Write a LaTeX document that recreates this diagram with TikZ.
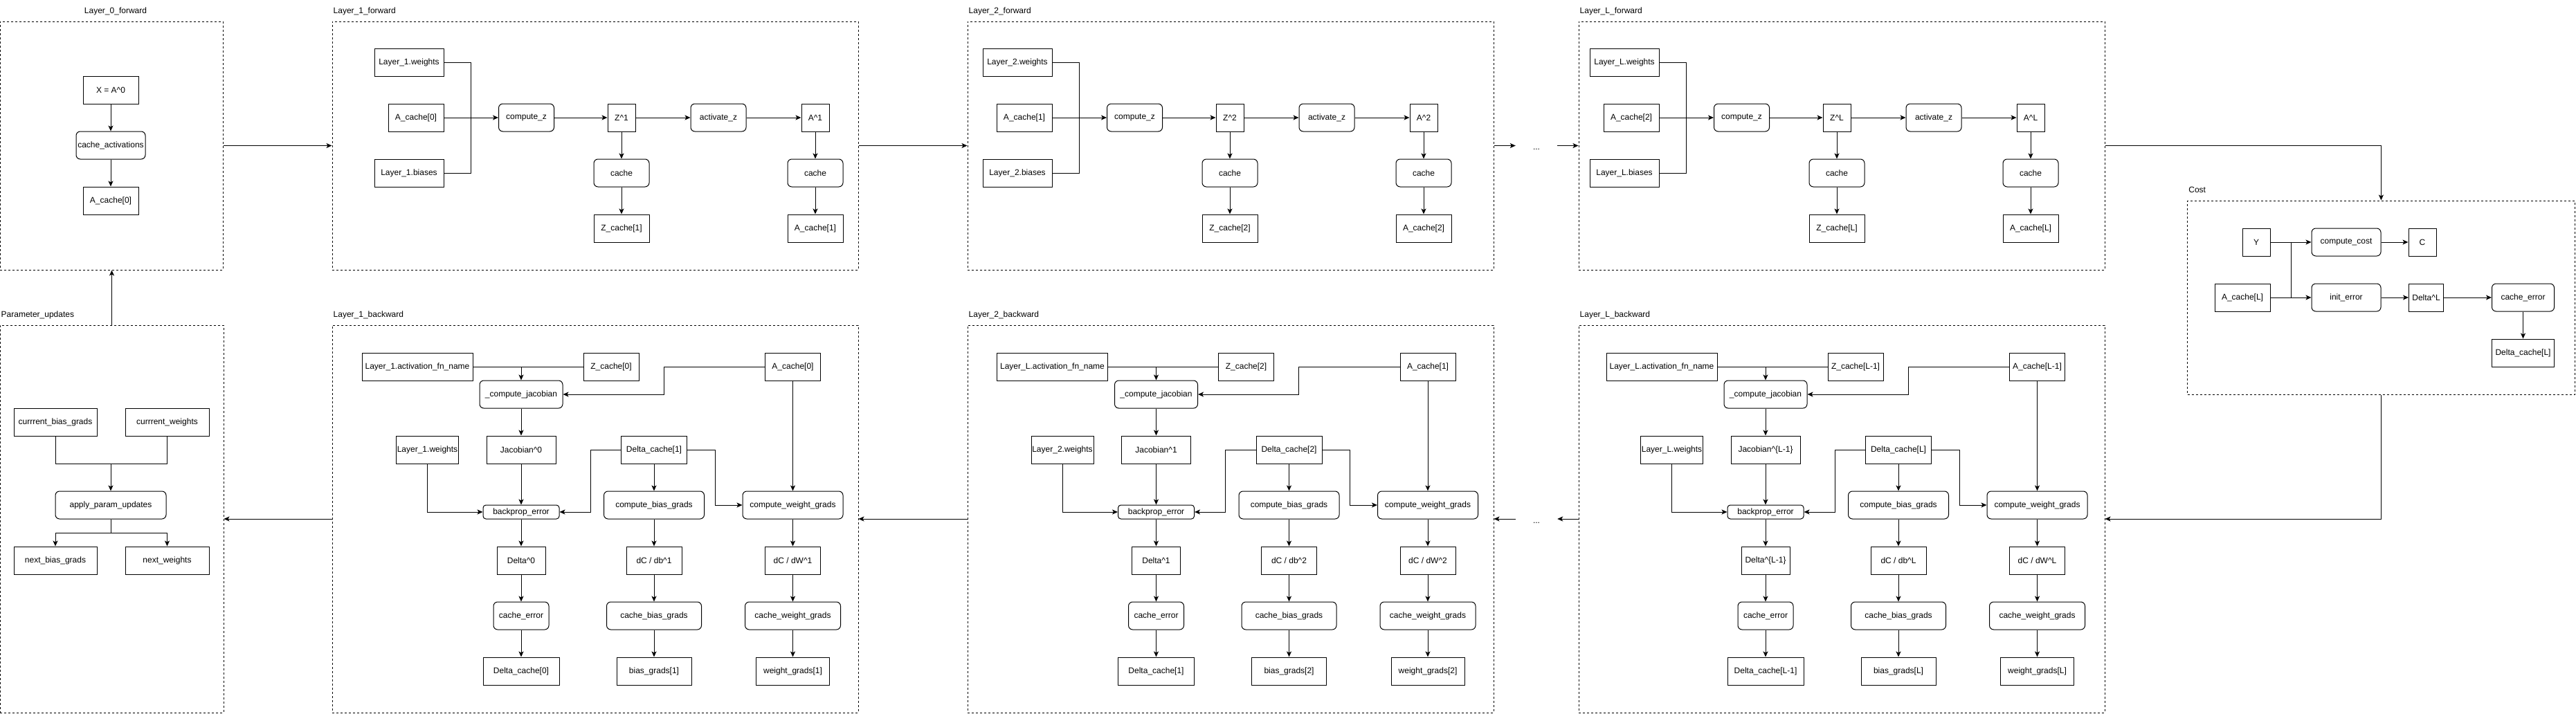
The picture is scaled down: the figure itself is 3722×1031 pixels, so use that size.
\documentclass[tikz,border=0pt]{standalone}
\usepackage{fontspec}
\setmainfont{Liberation Sans}
\usetikzlibrary{arrows.meta}
\newcommand{\crt}{\textasciicircum}
\tikzstyle{arrow} = [line width=1pt, -{Stealth[length=8pt, width=7pt, inset=2pt]}]
\tikzstyle{line} = [line width=1pt]
\tikzstyle{data} = [rectangle, draw=black, line width=1pt, minimum height=40pt, inner sep=0pt, font=\fontsize{12}{14}\selectfont]
\tikzstyle{func} = [data, rounded corners=6pt]
\tikzstyle{group} = [rectangle, draw=black, line width=1pt, dash pattern=on 3pt off 3pt, inner sep=0pt]
\tikzstyle{title} = [inner sep=0pt, font=\fontsize{12}{14}\selectfont]

\begin{document}
\begin{tikzpicture}[x=1pt, y=-1pt]
\fill[white] (0,0) rectangle (3722,1031);
\useasboundingbox (0,0) rectangle (3722,1031);

% Frames of the forward pass:
\node(fwd0)[group, minimum width=322pt, minimum height=359pt] at (161,210.5) {};
\node(tf0)[title, anchor=base] at ([shift={(6,-11)}]fwd0.north) {Layer\_0\_forward};
\foreach \nm/\cx/\tx in {fwd1/860/{Layer\_1\_forward}, fwd2/1778/{Layer\_2\_forward}, fwdL/2661/{Layer\_L\_forward}}{
	\node(\nm)[group, minimum width=760pt, minimum height=359pt] at (\cx,210.5) {};
	\node(t\nm)[title, anchor=base west] at ([shift={(2,-11)}]\nm.north west) {\tx};
}

% Frames of the backward pass:
\node(upd)[group, minimum width=323pt, minimum height=560pt] at (161.5,750) {};
\node(tupd)[title, anchor=base west] at ([shift={(2,-11)}]upd.north west) {Parameter\_updates};
\foreach \nm/\cx/\tx in {bwd1/860/{Layer\_1\_backward}, bwd2/1778/{Layer\_2\_backward}, bwdL/2661/{Layer\_L\_backward}}{
	\node(\nm)[group, minimum width=760pt, minimum height=560pt] at (\cx,750) {};
	\node(t\nm)[title, anchor=base west] at ([shift={(2,-11)}]\nm.north west) {\tx};
}

% Cost frame:
\node(cost)[group, minimum width=559.6pt, minimum height=280pt] at (3440.4,430) {};
\node(tcost)[title, anchor=base west] at ([shift={(2,-11)}]cost.north west) {Cost};

% Layer_0 forward:
\node(xin)[data, minimum width=80pt] at (160,130) {X = A\crt 0};
\node(cav)[func, minimum width=100pt] at (160,210) {cache\_activations};
\node(ac0)[data, minimum width=80pt] at (160,290) {A\_cache[0]};
\draw[arrow] (xin) -- (cav);
\draw[arrow] (cav) -- (ac0);

% Forward layers:
\foreach \ox/\ly/\ip in {541/1/0, 1420/2/1, 2297/L/2}{
	\node(wf\ly)[data, minimum width=100pt] at (\ox+50,90) {Layer\_\ly.weights};
	\node(ain\ly)[data, minimum width=80pt] at (\ox+60,170) {A\_cache[\ip]};
	\node(bf\ly)[data, minimum width=100pt] at (\ox+50,250) {Layer\_\ly.biases};
	\node(cpz\ly)[func, minimum width=80pt] at (\ox+219.5,170) {compute\_z};
	\node(z\ly)[data, minimum width=40pt] at (\ox+357,170) {Z\crt\ly};
	\node(actz\ly)[func, minimum width=80pt] at (\ox+497,170) {activate\_z};
	\node(a\ly)[data, minimum width=40pt] at (\ox+637,170) {A\crt\ly};
	\node(zk\ly)[func, minimum width=80pt] at (\ox+357,250) {cache};
	\node(ak\ly)[func, minimum width=80pt] at (\ox+637,250) {cache};
	\node(zch\ly)[data, minimum width=80pt] at (\ox+357,330) {Z\_cache[\ly]};
	\node(ach\ly)[data, minimum width=80pt] at (\ox+637,330) {A\_cache[\ly]};
	\draw[line] (wf\ly.east) -| (\ox+139,250) -- (bf\ly.east);
	\draw[arrow] (ain\ly) -- (cpz\ly);
	\draw[arrow] (cpz\ly) -- (z\ly);
	\draw[arrow] (z\ly) -- (actz\ly);
	\draw[arrow] (actz\ly) -- (a\ly);
	\draw[arrow] (z\ly) -- (zk\ly);
	\draw[arrow] (zk\ly) -- (zch\ly);
	\draw[arrow] (a\ly) -- (ak\ly);
	\draw[arrow] (ak\ly) -- (ach\ly);
}

% Cost module:
\node(yv)[data, minimum width=40pt] at (3260,350) {Y};
\node(cc)[func, minimum width=100pt] at (3390,350) {compute\_cost};
\node(cv)[data, minimum width=40pt] at (3500,350) {C};
\node(acl)[data, minimum width=80pt] at (3240,430) {A\_cache[L]};
\node(ie)[func, minimum width=100pt] at (3390,430) {init\_error};
\node(dlc)[data, minimum width=50pt] at (3505.5,430) {Delta\crt L};
\node(cer)[func, minimum width=90pt] at (3645.5,430) {cache\_error};
\node(dcl)[data, minimum width=90pt] at (3645.5,510) {Delta\_cache[L]};
\coordinate(jy) at (3310.5,350);
\coordinate(ja) at (3310.5,430);
\draw[arrow] (yv) -- (cc);
\draw[arrow] (acl) -- (ie);
\draw[line] (jy) -- (ja);
\draw[arrow] (cc) -- (cv);
\draw[arrow] (ie) -- (dlc);
\draw[arrow] (dlc) -- (cer);
\draw[arrow] (cer) -- (dcl);

% Backward layers:
\foreach \cx/\ly/\an/\zi/\ai/\pv/\qv in {753/1/1/0/0/0/0, 1670.5/2/L/2/1/1/1, 2551/L/L/L-1/L-1/{\{L-1\}}/L-1}{
	\node(afn\ly)[data, minimum width=160pt] at (\cx-150,530) {Layer\_\an.activation\_fn\_name};
	\node(zcb\ly)[data, minimum width=80pt] at (\cx+130,530) {Z\_cache[\zi]};
	\node(acb\ly)[data, minimum width=80pt] at (\cx+392.5,530) {A\_cache[\ai]};
	\node(jac\ly)[func, minimum width=120pt] at (\cx,570) {\_compute\_jacobian};
	\node(wb\ly)[data, minimum width=90pt] at (\cx-135.5,650) {Layer\_\ly.weights};
	\node(jb\ly)[data, minimum width=100pt] at (\cx,650) {Jacobian\crt\pv};
	\node(dcb\ly)[data, minimum width=95pt] at (\cx+192,650) {Delta\_cache[\ly]};
	\node(bp\ly)[func, minimum width=110pt, minimum height=20pt, rounded corners=4pt] at (\cx,740) {backprop\_error};
	\node(cbg\ly)[func, minimum width=145pt] at (\cx+192,730) {compute\_bias\_grads};
	\node(cwg\ly)[func, minimum width=145pt] at (\cx+392.5,730) {compute\_weight\_grads};
	\node(dl\ly)[data, minimum width=70pt] at (\cx,810) {Delta\crt\pv};
	\node(db\ly)[data, minimum width=80pt] at (\cx+192,810) {dC / db\crt\ly};
	\node(dw\ly)[data, minimum width=80pt] at (\cx+392.5,810) {dC / dW\crt\ly};
	\node(ce\ly)[func, minimum width=80pt] at (\cx,890) {cache\_error};
	\node(cbs\ly)[func, minimum width=137pt] at (\cx+192,890) {cache\_bias\_grads};
	\node(cws\ly)[func, minimum width=138pt] at (\cx+392.5,890) {cache\_weight\_grads};
	\node(dcc\ly)[data, minimum width=110pt] at (\cx,970) {Delta\_cache[\qv]};
	\node(bg\ly)[data, minimum width=108pt] at (\cx+192,970) {bias\_grads[\ly]};
	\node(wg\ly)[data, minimum width=106pt] at (\cx+392.5,970) {weight\_grads[\ly]};
	\draw[line] (afn\ly) -- (zcb\ly);
	\draw[arrow] (afn\ly.east -| jac\ly.north) -- (jac\ly.north);
	\draw[arrow] (acb\ly.west) -| (\cx+206,570) -- (jac\ly.east);
	\draw[arrow] (acb\ly) -- (cwg\ly);
	\draw[arrow] (jac\ly) -- (jb\ly);
	\draw[arrow] (jb\ly) -- (bp\ly);
	\draw[arrow] (wb\ly) |- (bp\ly);
	\draw[arrow] (dcb\ly.west) -| (\cx+100,740) -- (bp\ly.east);
	\draw[arrow] (dcb\ly.east) -| (\cx+280,730) -- (cwg\ly.west);
	\draw[arrow] (dcb\ly) -- (cbg\ly);
	\draw[arrow] (bp\ly) -- (dl\ly);
	\draw[arrow] (dl\ly) -- (ce\ly);
	\draw[arrow] (ce\ly) -- (dcc\ly);
	\draw[arrow] (cbg\ly) -- (db\ly);
	\draw[arrow] (db\ly) -- (cbs\ly);
	\draw[arrow] (cbs\ly) -- (bg\ly);
	\draw[arrow] (cwg\ly) -- (dw\ly);
	\draw[arrow] (dw\ly) -- (cws\ly);
	\draw[arrow] (cws\ly) -- (wg\ly);
}

% Parameter updates:
\node(cbgr)[data, minimum width=120pt] at (80,610) {currrent\_bias\_grads};
\node(cwt)[data, minimum width=121pt] at (241.5,610) {currrent\_weights};
\node(apu)[func, minimum width=160pt] at (160,730) {apply\_param\_updates};
\node(nbg)[data, minimum width=120pt] at (80,810) {next\_bias\_grads};
\node(nwt)[data, minimum width=121pt] at (241.5,810) {next\_weights};
\coordinate(jn) at (160,670);
\coordinate(sp) at (160,770);
\draw[line] (cbgr.south) |- (jn) -| (cwt.south);
\draw[arrow] (jn) -- (apu);
\draw[line] (apu) -- (sp);
\draw[arrow] (sp) -| (nbg);
\draw[arrow] (sp) -| (nwt);

% Links between the frames:
\node(dotf)[title, minimum width=60pt] at (2220,216) {...};
\node(dotb)[title, minimum width=60pt] at (2220,756) {...};
\draw[arrow] (fwd0) -- (fwd1);
\draw[arrow] (fwd1) -- (fwd2);
\draw[arrow] (fwd2.east) -- (fwd2.east -| dotf.west);
\draw[arrow] (fwd2.east -| dotf.east) -- (fwdL.west);
\draw[arrow] (fwdL.east) -| (cost.north);
\draw[arrow] (cost.south) |- (bwdL.east);
\draw[arrow] (bwdL.west) -- (bwdL.west -| dotb.east);
\draw[arrow] (bwdL.west -| dotb.west) -- (bwd2.east);
\draw[arrow] (bwd2) -- (bwd1);
\draw[arrow] (bwd1) -- (upd);
\draw[arrow] (upd.north) -- (upd.north |- fwd0.south);

\end{tikzpicture}
\end{document}
